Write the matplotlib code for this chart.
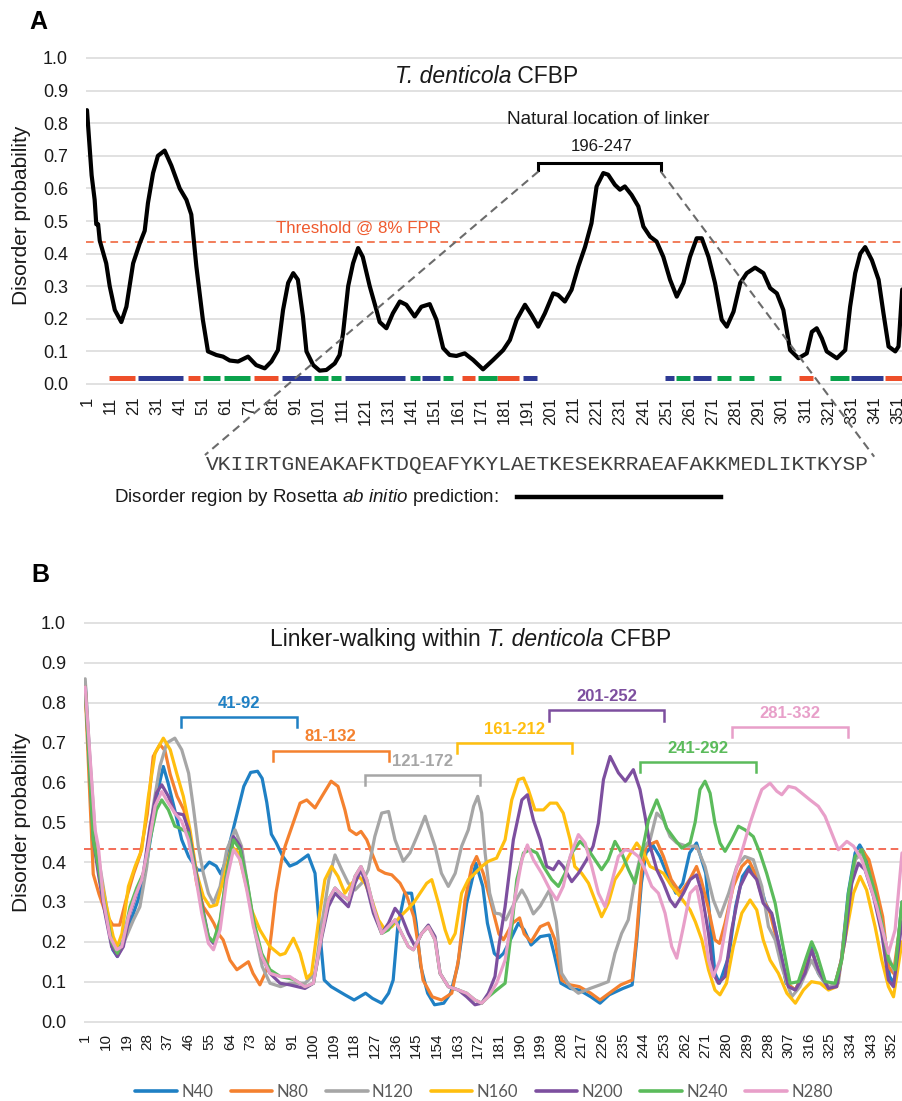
import matplotlib
matplotlib.use('Agg')
import matplotlib.pyplot as plt
from matplotlib.lines import Line2D
import numpy as np

plt.rcParams['font.family'] = ['Liberation Sans', 'DejaVu Sans']
plt.rcParams['mathtext.fontset'] = 'custom'
plt.rcParams['mathtext.rm'] = 'Liberation Sans'
plt.rcParams['mathtext.it'] = 'Liberation Sans:italic'
plt.rcParams['mathtext.bf'] = 'Liberation Sans:bold'

# ---------------- Panel A data ----------------
a_res = [1, 2.2, 3, 4.3, 5, 5.8, 6.5, 9.3, 10.8, 13, 15.8, 18, 20.9, 23.7, 25.9, 27.3, 29.5, 31.6,
         34.5, 37.4, 41, 43.9, 46, 48.2, 51, 53.2, 56.8, 59.7, 62.6, 66.2, 70.5, 74, 77.7, 80.6,
         83.4, 85.6, 87.8, 90, 92, 94.2, 95.7, 98.6, 101.4, 104.3, 107.9, 110, 111.5, 113.7, 115.8,
         118, 120, 123, 125.9, 127.3, 130.2, 133, 136, 138.8, 142.4, 145.3, 148.9, 151.8, 154.7,
         157.5, 160.4, 164, 167.6, 171.9, 176.3, 180.6, 183.5, 186.4, 190, 192.8, 195.7, 198.6,
         202.2, 204.3, 207.2, 210.1, 213, 215.9, 218.7, 220.9, 223.8, 225.9, 228.8, 231, 233.1,
         236, 238.9, 241.1, 244, 246.8, 249.7, 252.6, 255.5, 258.4, 261.2, 264.1, 266.3, 269.2,
         272, 274.9, 277.1, 280, 282.9, 285.7, 289.3, 292.9, 295.8, 298.7, 301.5, 304.4, 308,
         311.6, 313.8, 315.9, 318.1, 320.2, 324.6, 328.2, 330.3, 332.5, 334.7, 336.8, 339.7,
         342.6, 344.7, 346.9, 349.8, 351.2, 352.8]
a_val = [0.84, 0.72, 0.64, 0.565, 0.49, 0.49, 0.44, 0.37, 0.30, 0.227, 0.19, 0.237, 0.37, 0.43,
         0.47, 0.555, 0.647, 0.70, 0.716, 0.67, 0.60, 0.565, 0.52, 0.36, 0.197, 0.10, 0.089, 0.084,
         0.072, 0.069, 0.084, 0.058, 0.048, 0.069, 0.104, 0.227, 0.31, 0.34, 0.32, 0.207, 0.10,
         0.058, 0.041, 0.043, 0.063, 0.089, 0.156, 0.30, 0.37, 0.417, 0.39, 0.30, 0.227, 0.19,
         0.171, 0.217, 0.253, 0.243, 0.207, 0.237, 0.245, 0.197, 0.11, 0.089, 0.086, 0.094, 0.074,
         0.045, 0.074, 0.104, 0.135, 0.197, 0.243, 0.212, 0.176, 0.217, 0.278, 0.273, 0.253,
         0.289, 0.36, 0.42, 0.493, 0.606, 0.647, 0.642, 0.611, 0.596, 0.606, 0.58, 0.545, 0.483,
         0.452, 0.437, 0.39, 0.32, 0.268, 0.31, 0.39, 0.447, 0.447, 0.39, 0.31, 0.197, 0.176,
         0.222, 0.31, 0.34, 0.357, 0.34, 0.294, 0.278, 0.227, 0.104, 0.079, 0.094, 0.16, 0.171,
         0.14, 0.10, 0.079, 0.104, 0.237, 0.34, 0.40, 0.42, 0.38, 0.32, 0.217, 0.115, 0.10,
         0.115, 0.29]

# secondary-structure style segments under the curve (start, end residue)
ss_red = [(10.5, 21.6), (44.6, 49.6), (72.9, 83.6), (163.0, 168.3), (178.1, 187.3),
          (308.2, 314.4), (345.5, 352.7)]
ss_blue = [(23.0, 42.4), (85.0, 97.8), (112.2, 138.4), (145.7, 153.2), (189.2, 195.4),
           (250.4, 254.2), (262.6, 270.1), (330.6, 344.6)]
ss_green = [(51.1, 58.3), (60.0, 71.2), (98.8, 105.0), (106.5, 110.8), (140.3, 144.6),
            (154.7, 159.0), (169.8, 178.1), (255.1, 261.1), (272.9, 278.7), (282.4, 288.8),
            (295.4, 300.3), (321.6, 329.8)]

threshold_a = 0.437
linker_a = (196, 247)
linker_seq = "VKIIRTGNEAKAFKTDQEAFYKYLAETKESEKRRAEAFAKKMEDLIKTKYSP"

# ---------------- Panel B data ----------------
n40_res = [1, 5, 7, 10, 13, 15, 18, 21, 24, 27, 30, 33, 35, 37, 40, 43, 46, 50, 52, 55, 58, 60, 62,
           64, 67, 70, 73, 76, 78, 80, 82, 84, 87, 90, 93, 98, 101, 103, 105, 108, 114, 118, 123,
           126, 130, 133, 135, 137, 140, 143, 145, 147, 150, 153, 157, 160, 163, 167, 171, 174,
           176, 179, 181, 183, 186, 189.5, 192, 195, 199, 203, 205, 208, 212, 216, 221, 225, 229,
           235, 239, 241, 243, 245, 248, 251, 254, 258, 261, 264, 267, 271, 273, 275, 277, 281,
           284, 287, 290, 294, 297, 300, 303, 306, 310, 313.5, 317, 320, 324, 327, 330, 333, 336,
           338, 340, 343, 346, 349, 351, 353, 356.4]
n40_val = [0.85, 0.46, 0.37, 0.27, 0.18, 0.163, 0.205, 0.255, 0.305, 0.37, 0.48, 0.59, 0.64, 0.60,
           0.53, 0.456, 0.414, 0.38, 0.38, 0.40, 0.39, 0.37, 0.40, 0.45, 0.52, 0.59, 0.625, 0.628,
           0.61, 0.55, 0.47, 0.45, 0.414, 0.39, 0.397, 0.418, 0.372, 0.23, 0.104, 0.0875, 0.067,
           0.054, 0.071, 0.058, 0.046, 0.071, 0.104, 0.238, 0.322, 0.322, 0.247, 0.138, 0.071,
           0.042, 0.046, 0.071, 0.138, 0.297, 0.397, 0.339, 0.247, 0.171, 0.16, 0.171, 0.205,
           0.247, 0.23, 0.192, 0.213, 0.217, 0.171, 0.096, 0.083, 0.079, 0.062, 0.046, 0.067,
           0.083, 0.092, 0.205, 0.347, 0.423, 0.443, 0.414, 0.372, 0.322, 0.347, 0.423, 0.448,
           0.372, 0.247, 0.121, 0.096, 0.163, 0.288, 0.364, 0.389, 0.356, 0.297, 0.264, 0.188,
           0.096, 0.079, 0.121, 0.188, 0.121, 0.0875, 0.0875, 0.154, 0.322, 0.423, 0.443, 0.423,
           0.356, 0.288, 0.205, 0.113, 0.096, 0.30]

n80_res = [1, 4.5, 7, 10, 13, 16, 19, 22, 25, 28, 30.6, 33.5, 35.7, 38, 41, 44, 46.6, 49.5, 52.4,
           55.3, 57, 59, 61, 64, 67, 70, 72, 74, 77, 80, 82, 84, 86.5, 88, 91, 94.5, 97.4, 101,
           104, 108, 111, 114, 116, 119, 121, 123.5, 125.7, 128.6, 131.5, 134.4, 138, 141, 144,
           146, 148, 152, 156, 160.5, 163.4, 166.3, 169.2, 171.3, 174.2, 177.2, 181, 183, 187,
           190, 192, 195, 199, 202.5, 205.4, 208.3, 212, 216, 221, 225, 229, 234, 239, 241, 243,
           245, 249.7, 252.6, 256, 260, 264, 267, 269, 272, 275, 277, 279.4, 283, 286.7, 289.6,
           292.5, 295.4, 299, 302.6, 306.3, 310, 314, 317, 320, 324, 327, 330, 333, 336, 339,
           342, 345, 348, 350.5, 352.7, 356.4]
n80_val = [0.83, 0.37, 0.32, 0.27, 0.242, 0.242, 0.31, 0.37, 0.42, 0.52, 0.665, 0.695, 0.68, 0.62,
           0.565, 0.53, 0.456, 0.347, 0.288, 0.263, 0.246, 0.22, 0.205, 0.154, 0.13, 0.142, 0.15,
           0.121, 0.092, 0.13, 0.22, 0.322, 0.406, 0.44, 0.49, 0.548, 0.556, 0.536, 0.565, 0.603,
           0.59, 0.531, 0.481, 0.469, 0.477, 0.456, 0.423, 0.381, 0.372, 0.368, 0.347, 0.314,
           0.263, 0.188, 0.104, 0.062, 0.054, 0.071, 0.154, 0.305, 0.389, 0.414, 0.372, 0.305,
           0.22, 0.205, 0.247, 0.26, 0.22, 0.20, 0.238, 0.247, 0.205, 0.104, 0.092, 0.0875, 0.071,
           0.054, 0.071, 0.092, 0.104, 0.22, 0.372, 0.44, 0.452, 0.414, 0.356, 0.322, 0.356, 0.389,
           0.356, 0.288, 0.205, 0.196, 0.247, 0.339, 0.389, 0.406, 0.372, 0.314, 0.272, 0.188,
           0.096, 0.079, 0.13, 0.18, 0.13, 0.0875, 0.0875, 0.154, 0.305, 0.406, 0.431, 0.406,
           0.339, 0.263, 0.138, 0.121, 0.28]

n120_res = [1, 3, 5.3, 7.4, 10.3, 13.2, 15.4, 18.3, 22, 24.8, 27.8, 30.6, 33.5, 36.5, 40, 43, 46,
            48, 50.2, 52.4, 54.6, 56.8, 59.7, 62.6, 66.2, 69, 72, 75, 78, 81.4, 86, 90, 96.6, 101,
            104, 107, 109.7, 112.6, 115.5, 118.4, 121.3, 124.2, 127, 130, 133, 135.8, 139.4,
            142.3, 146, 148.9, 150.3, 153.2, 156, 159, 162, 164.8, 167.7, 170, 171.8, 173.5, 175,
            177, 179.3, 181.5, 184, 188, 191, 193, 196, 199, 203, 206, 208.3, 212, 215.6, 220.7,
            225, 228.6, 231.5, 234.4, 237.3, 240.2, 243.2, 246.8, 249.7, 252.6, 255.5, 258.4,
            262.7, 267, 270.7, 274.3, 277.2, 281, 284.5, 288, 291.7, 295.4, 298.3, 301.2, 304,
            308.4, 312, 317, 320.8, 324.4, 328.7, 332.4, 336, 339, 343, 347.6, 350.5, 353.4,
            356.4]
n120_val = [0.86, 0.665, 0.473, 0.389, 0.288, 0.188, 0.167, 0.205, 0.255, 0.288, 0.389, 0.54, 0.64,
            0.699, 0.711, 0.682, 0.623, 0.54, 0.44, 0.372, 0.322, 0.297, 0.339, 0.431, 0.481,
            0.44, 0.33, 0.22, 0.138, 0.096, 0.0875, 0.096, 0.096, 0.121, 0.247, 0.356, 0.418,
            0.381, 0.347, 0.33, 0.347, 0.381, 0.464, 0.523, 0.527, 0.456, 0.402, 0.423, 0.473,
            0.515, 0.49, 0.44, 0.372, 0.339, 0.372, 0.44, 0.481, 0.54, 0.565, 0.523, 0.423, 0.322,
            0.272, 0.27, 0.255, 0.30, 0.33, 0.31, 0.27, 0.29, 0.33, 0.25, 0.121, 0.0875, 0.071,
            0.083, 0.092, 0.10, 0.171, 0.221, 0.255, 0.356, 0.431, 0.456, 0.523, 0.506, 0.464,
            0.448, 0.44, 0.44, 0.389, 0.305, 0.263, 0.322, 0.389, 0.414, 0.406, 0.339, 0.238,
            0.205, 0.138, 0.062, 0.0875, 0.154, 0.113, 0.0875, 0.096, 0.263, 0.406, 0.423, 0.356,
            0.247, 0.163, 0.121, 0.30]

n160_res = [1, 4.5, 7.4, 10.3, 13.2, 15, 17, 19.8, 22.7, 25.6, 28.5, 31.4, 35, 38, 40.8, 43.7,
            46.6, 49.5, 52.4, 55.3, 58.2, 61.1, 64.7, 67.6, 70.5, 73.4, 77, 81.4, 85.8, 88, 91.6,
            94.5, 97.4, 99.5, 102.4, 105.3, 108.2, 111, 114, 117, 120, 122.8, 125.7, 128.6,
            131.5, 134.4, 138, 141, 143.8, 146.7, 149.6, 151.8, 154.7, 157.6, 159.7, 162, 164.8,
            167.7, 170.6, 173.5, 176.4, 180, 183.7, 186.6, 189.5, 191.7, 193.8, 196.7, 200.4,
            203.3, 206.2, 209, 212, 214, 217, 220, 222.8, 225.7, 228.6, 231.5, 234.4, 237.4, 241,
            244, 246.8, 249.7, 252.6, 256.2, 259.8, 264.2, 266.5, 269.3, 272.2, 275, 277.2, 280,
            283, 286.7, 290.3, 293.2, 296, 299, 302.6, 306.3, 310, 313.5, 317, 320.8, 324.4, 328,
            331.6, 335.3, 338.2, 341, 344.7, 347.6, 350.5, 352.7, 356.4]
n160_val = [0.84, 0.456, 0.372, 0.288, 0.213, 0.188, 0.221, 0.339, 0.389, 0.431, 0.565, 0.674,
            0.711, 0.682, 0.623, 0.565, 0.481, 0.372, 0.314, 0.288, 0.293, 0.356, 0.44, 0.423,
            0.356, 0.28, 0.23, 0.188, 0.167, 0.171, 0.209, 0.171, 0.108, 0.121, 0.247, 0.356,
            0.389, 0.364, 0.322, 0.347, 0.364, 0.347, 0.305, 0.255, 0.23, 0.238, 0.263, 0.28,
            0.297, 0.322, 0.347, 0.356, 0.297, 0.23, 0.196, 0.221, 0.322, 0.356, 0.372, 0.389,
            0.402, 0.41, 0.456, 0.556, 0.607, 0.611, 0.582, 0.531, 0.531, 0.548, 0.548, 0.523,
            0.456, 0.389, 0.372, 0.347, 0.305, 0.263, 0.297, 0.356, 0.381, 0.414, 0.448, 0.423,
            0.389, 0.381, 0.372, 0.339, 0.314, 0.28, 0.25, 0.205, 0.13, 0.079, 0.067, 0.096,
            0.188, 0.272, 0.305, 0.28, 0.205, 0.154, 0.121, 0.071, 0.046, 0.079, 0.10, 0.096,
            0.079, 0.0875, 0.205, 0.322, 0.364, 0.33, 0.238, 0.154, 0.0875, 0.062, 0.20]

n200_res = [1, 4.5, 6.7, 9.6, 12.5, 15, 17.6, 20.5, 23.4, 26.3, 29.2, 32, 34.3, 37.2, 40, 43.7, 46,
            48.8, 51.7, 54.6, 56.8, 59.7, 62.6, 65.5, 68.4, 71.3, 74.2, 77.8, 81.4, 85.8, 90,
            96.6, 100.3, 104, 106.8, 109.7, 112.6, 115.5, 118.4, 121, 123.5, 126.4, 130, 133,
            135.8, 138.7, 141.6, 144.5, 147.4, 150.3, 153.2, 155.4, 159, 163.4, 167, 170.6,
            173.5, 176.4, 179.3, 181, 183.7, 187.3, 191, 193.4, 196, 199, 201.8, 204.7, 207, 209,
            212.7, 215.6, 219.2, 222, 224.3, 226.5, 229.4, 233, 236, 239.5, 242.4, 244.6, 246.8,
            249.7, 252.6, 255.5, 257.7, 261.3, 264.2, 267, 269.3, 272.2, 274.3, 276.5, 279.4,
            282.3, 286, 289.6, 293.2, 296, 299.7, 303.3, 307, 310, 314.2, 317, 320, 324.4, 328,
            331.6, 334.5, 337.4, 340.3, 344, 347.6, 350.5, 352.7, 356.4]
n200_val = [0.84, 0.456, 0.372, 0.272, 0.188, 0.163, 0.188, 0.272, 0.322, 0.372, 0.49, 0.573,
            0.594, 0.565, 0.523, 0.519, 0.481, 0.389, 0.297, 0.213, 0.196, 0.247, 0.372, 0.464,
            0.44, 0.347, 0.247, 0.163, 0.121, 0.096, 0.092, 0.083, 0.096, 0.213, 0.288, 0.322,
            0.305, 0.288, 0.347, 0.381, 0.339, 0.272, 0.221, 0.247, 0.284, 0.263, 0.221, 0.188,
            0.221, 0.242, 0.213, 0.121, 0.0875, 0.079, 0.062, 0.042, 0.046, 0.071, 0.113, 0.19,
            0.288, 0.456, 0.556, 0.569, 0.506, 0.456, 0.389, 0.381, 0.402, 0.389, 0.351, 0.372,
            0.406, 0.44, 0.498, 0.607, 0.665, 0.624, 0.603, 0.632, 0.582, 0.515, 0.44, 0.381,
            0.347, 0.305, 0.288, 0.322, 0.356, 0.368, 0.322, 0.221, 0.121, 0.096, 0.113, 0.23,
            0.339, 0.381, 0.356, 0.297, 0.272, 0.18, 0.0875, 0.079, 0.121, 0.18, 0.13, 0.083,
            0.0875, 0.205, 0.347, 0.397, 0.381, 0.314, 0.221, 0.104, 0.0875, 0.25]

n240_res = [1, 4.5, 6.7, 9.6, 12.5, 15, 17.6, 20.5, 23.4, 26.3, 29.2, 32, 34.3, 37.2, 40, 42.3,
            45.9, 48.8, 51.7, 54.6, 56.8, 59.7, 62.6, 65.5, 68.4, 71.3, 74.2, 77.8, 81.4, 85.8,
            90, 92.3, 96.6, 100.3, 104, 106.8, 109.7, 112.6, 115.5, 118.4, 121, 123.5, 126.4,
            130, 132.9, 135.8, 138.7, 141.6, 143.8, 147.4, 150.3, 153.2, 155.4, 159, 163.4, 167,
            170.6, 173.5, 176.4, 180, 183.7, 186, 188.8, 191.7, 194.6, 197.5, 200.4, 204, 206.9,
            209.8, 212.7, 216.3, 219.9, 222.8, 225.7, 228.6, 231.5, 234.4, 237.4, 240.2, 243.2,
            246.1, 249.7, 251.9, 254, 257.7, 260.6, 264.2, 266.4, 268.5, 270.7, 272.9, 275,
            277.2, 279.4, 282.3, 285.2, 288.1, 291.7, 294.6, 297.5, 301.2, 304.1, 307.7, 311.3,
            314.9, 317.1, 319.3, 323, 327.3, 330.2, 333.1, 336, 338.9, 341.8, 344.7, 347.6,
            350.5, 353.4, 356.4]
n240_val = [0.84, 0.456, 0.389, 0.288, 0.20, 0.171, 0.205, 0.288, 0.335, 0.372, 0.456, 0.531,
            0.556, 0.531, 0.49, 0.485, 0.473, 0.381, 0.288, 0.213, 0.20, 0.255, 0.372, 0.456,
            0.431, 0.356, 0.255, 0.171, 0.13, 0.113, 0.108, 0.104, 0.0875, 0.096, 0.221, 0.305,
            0.335, 0.318, 0.305, 0.364, 0.389, 0.356, 0.288, 0.221, 0.23, 0.255, 0.221, 0.188,
            0.18, 0.221, 0.238, 0.205, 0.121, 0.0875, 0.079, 0.071, 0.054, 0.046, 0.062, 0.079,
            0.096, 0.205, 0.356, 0.423, 0.431, 0.423, 0.389, 0.356, 0.339, 0.372, 0.423, 0.452,
            0.431, 0.406, 0.381, 0.406, 0.452, 0.423, 0.381, 0.347, 0.423, 0.506, 0.556, 0.523,
            0.485, 0.456, 0.435, 0.448, 0.50, 0.582, 0.603, 0.573, 0.498, 0.448, 0.427, 0.456,
            0.49, 0.481, 0.464, 0.423, 0.372, 0.297, 0.205, 0.096, 0.10, 0.163, 0.20, 0.171, 0.10,
            0.096, 0.154, 0.322, 0.414, 0.431, 0.381, 0.322, 0.247, 0.154, 0.13, 0.30]

n280_res = [1, 5.3, 6.7, 8.9, 11.8, 14.7, 16.9, 19.8, 22.7, 25.6, 28.5, 31.4, 34.3, 37.2, 40, 43,
            45.9, 48.8, 51.7, 54.6, 56.8, 59.7, 62.6, 65.5, 68.4, 71.3, 74.2, 77.8, 81.4, 85.8,
            90, 92.3, 96.6, 100.3, 104, 106.8, 109.7, 112.6, 115.5, 118.4, 121, 123.5, 126.4,
            130, 132.9, 135.8, 138.7, 141.6, 143.8, 147.4, 150.3, 153.2, 155.4, 159, 163.4, 167,
            170.6, 173.5, 176.4, 180, 183.7, 187.3, 191, 193.4, 196, 199.6, 203.3, 206.2, 209,
            212, 215.6, 218.5, 221.4, 224.3, 227.2, 230, 233, 235.9, 238.8, 241.7, 244.6, 247.5,
            250.4, 253.3, 256.2, 258.4, 261.3, 264.2, 267, 269.3, 272.2, 274.3, 277.2, 280,
            283.8, 287.4, 290.3, 293.2, 295.4, 299, 301.9, 304.1, 307, 310, 312.8, 316.4, 320,
            322.9, 325.8, 328.7, 332.4, 335.3, 338.9, 341.8, 345.4, 348.3, 350.5, 353.4, 356.4]
n280_val = [0.84, 0.481, 0.44, 0.305, 0.213, 0.18, 0.188, 0.263, 0.314, 0.356, 0.44, 0.54, 0.577,
            0.548, 0.523, 0.502, 0.456, 0.372, 0.272, 0.196, 0.18, 0.23, 0.356, 0.431, 0.406,
            0.33, 0.238, 0.163, 0.121, 0.113, 0.113, 0.104, 0.0875, 0.096, 0.221, 0.305, 0.335,
            0.318, 0.305, 0.364, 0.389, 0.356, 0.288, 0.221, 0.238, 0.255, 0.221, 0.188, 0.18,
            0.221, 0.238, 0.205, 0.121, 0.0875, 0.079, 0.071, 0.054, 0.046, 0.062, 0.096, 0.154,
            0.288, 0.406, 0.443, 0.406, 0.372, 0.33, 0.305, 0.339, 0.414, 0.469, 0.448, 0.389,
            0.322, 0.288, 0.347, 0.414, 0.431, 0.427, 0.414, 0.381, 0.339, 0.322, 0.272, 0.188,
            0.159, 0.238, 0.322, 0.339, 0.272, 0.154, 0.113, 0.154, 0.247, 0.372, 0.44, 0.498,
            0.548, 0.582, 0.598, 0.578, 0.569, 0.59, 0.586, 0.573, 0.556, 0.54, 0.515, 0.473,
            0.431, 0.452, 0.44, 0.406, 0.356, 0.288, 0.221, 0.171, 0.23, 0.423]

series_names = ['N40', 'N80', 'N120', 'N160', 'N200', 'N240', 'N280']
series_colors = ['#1f80c4', '#f4812f', '#a6a6a6', '#ffbf0f', '#7d4f9f', '#5bbb5b', '#e89fc9']
series_res = [n40_res, n80_res, n120_res, n160_res, n200_res, n240_res, n280_res]
series_val = [n40_val, n80_val, n120_val, n160_val, n200_val, n240_val, n280_val]

linker_labels = ['41-92', '81-132', '121-172', '161-212', '201-252', '241-292', '281-332']
linker_ranges = [(41, 92), (81, 132), (121, 172), (161, 212), (201, 252), (241, 292), (281, 332)]
bracket_levels = [0.764, 0.680, 0.619, 0.699, 0.781, 0.651, 0.739]
threshold_b = 0.433

# ---------------- Figure ----------------
W, H = 902, 1101
fig = plt.figure(figsize=(W / 100, H / 100), dpi=100)

GRID = '#d9d9d9'
TXT = '#1a1a1a'


def style_axes(ax, xticks, xlabels, xpad, xsize):
    for s in ax.spines.values():
        s.set_visible(False)
    ax.set_ylim(-0.01, 1.01)
    ax.set_yticks(np.round(np.arange(0, 1.01, 0.1), 1))
    ax.set_yticklabels([f'{v:.1f}' for v in np.arange(0, 1.01, 0.1)])
    ax.yaxis.grid(True, color=GRID, lw=1.1)
    ax.set_axisbelow(True)
    ax.set_xticks(xticks)
    ax.set_xticklabels(xlabels, rotation=90)
    ax.tick_params(axis='y', length=0, pad=13, labelsize=13, labelcolor=TXT)
    ax.tick_params(axis='x', length=0, pad=xpad, labelsize=xsize, labelcolor=TXT)


def mixed_text(ax, x, y, parts, size):
    """Draw consecutive text pieces (text, style) starting at data point (x, y)."""
    prev = None
    for txt, style in parts:
        if prev is None:
            prev = ax.text(x, y, txt, ha='left', va='center', fontsize=size, style=style,
                           color=TXT)
        else:
            prev = ax.annotate(txt, xy=(1, 0), xycoords=prev, ha='left', va='bottom',
                               fontsize=size, style=style, color=TXT)
    return prev


# ---- Panel A ----
axA = fig.add_axes([86 / W, 1 - 387.26 / H, 816 / W, 332.52 / H])
style_axes(axA, list(range(1, 352, 10)), [str(t) for t in range(1, 352, 10)], 6.8, 12)
axA.set_xlim(0.568, 352.7)

axA.axhline(threshold_a, color='#ef5a2e', lw=1.1, ls=(0, (5, 3)), zorder=2)
for segs, col in ((ss_red, '#ee4f2a'), (ss_blue, '#2e3a94'), (ss_green, '#0aa24c')):
    axA.hlines([0.019] * len(segs), [s[0] for s in segs], [s[1] for s in segs],
               colors=col, lw=3.6, zorder=3, capstyle='butt')
axA.plot(a_res, a_val, color='black', lw=3.0, solid_joinstyle='round', solid_capstyle='round',
         zorder=4)

mixed_text(axA, 133.9, 0.944, [('T. denticola', 'italic'), (' CFBP', 'normal')], 16.5)
axA.text(118.3, 0.478, 'Threshold @ 8% FPR', ha='center', va='center', fontsize=12.2,
         color='#ef5a2e')
axA.text(225.9, 0.81, 'Natural location of linker', ha='center', va='center', fontsize=13.7,
         color=TXT)
axA.text(223.2, 0.73, f'{linker_a[0]}-{linker_a[1]}', ha='center', va='center', fontsize=12.2,
         color=TXT)
# bracket
bx0, bx1 = linker_a[0] - 0.2, linker_a[1] + 1.6
axA.plot([bx0, bx0, bx1, bx1], [0.655, 0.678, 0.678, 0.655], color='black', lw=2.2,
         solid_joinstyle='miter', zorder=5, clip_on=False)
# dashed connectors to the sequence
axA.plot([bx0, 51.9], [0.652, -0.218], color='#6b6b6b', lw=1.5, ls=(0, (4, 2.5)), clip_on=False,
         zorder=6)
axA.plot([bx1, 340.7], [0.652, -0.223], color='#6b6b6b', lw=1.5, ls=(0, (4, 2.5)), clip_on=False,
         zorder=6)

fig.text(537.5 / W, 1 - 465 / H, linker_seq, ha='center', va='center', family='Liberation Mono',
         fontsize=15.3, color='#404040')
fig.text(114 / W, 1 - 497 / H, r'Disorder region by Rosetta $\mathit{ab}$ $\mathit{initio}$ prediction:',
         ha='left', va='center', fontsize=13.5, color=TXT)
fig.add_artist(Line2D([517 / W, 721 / W], [1 - 497 / H, 1 - 497 / H], lw=3.2, color='black',
                      transform=fig.transFigure))

fig.text(38 / W, 1 - 22 / H, 'A', ha='center', va='center', fontsize=18, fontweight='bold')
fig.text(22 / W, 1 - 215 / H, 'Disorder probability', rotation=90, ha='center', va='center',
         fontsize=15, color=TXT)

# ---- Panel B ----
axB = fig.add_axes([84 / W, 1 - 1025.5 / H, 818 / W, 406.5 / H])
style_axes(axB, list(range(1, 353, 9)), [str(t) for t in range(1, 353, 9)], 5.4, 11)
axB.set_xlim(0.478, 356.4)

axB.axhline(threshold_b, color='#f0452a', lw=1.1, ls=(0, (5, 3)), zorder=2)
for name, col, rr, vv in zip(series_names, series_colors, series_res, series_val):
    axB.plot(rr, vv, color=col, lw=2.3, label=name, solid_joinstyle='round',
             solid_capstyle='round', zorder=3)

for lab, (s, e), lev, col in zip(linker_labels, linker_ranges, bracket_levels, series_colors):
    x0, x1 = s + 1.6, e + 1.0
    axB.plot([x0, x0, x1, x1], [lev - 0.026, lev, lev, lev - 0.026], color=col, lw=1.8,
             solid_joinstyle='miter', zorder=5)
    axB.text((x0 + x1) / 2, lev + 0.034, lab, ha='center', va='center', fontsize=12,
             fontweight='bold', color=col)

mixed_text(axB, 81.4, 0.958, [('Linker-walking within ', 'normal'), ('T. denticola', 'italic'),
                              (' CFBP', 'normal')], 16.5)

fig.text(40 / W, 1 - 575 / H, 'B', ha='center', va='center', fontsize=18, fontweight='bold')
fig.text(22 / W, 1 - 822 / H, 'Disorder probability', rotation=90, ha='center', va='center',
         fontsize=15, color=TXT)

leg = fig.legend(loc='center', bbox_to_anchor=(484 / W, 1 - 1092 / H), ncol=7, frameon=False,
                 handlelength=2.5, handletextpad=0.25, columnspacing=1.05,
                 prop={'family': 'Lato', 'size': 12})
for t in leg.get_texts():
    t.set_color('#595959')
for h in leg.get_lines():
    h.set_linewidth(2.6)

fig.savefig('out.png', dpi=100)
